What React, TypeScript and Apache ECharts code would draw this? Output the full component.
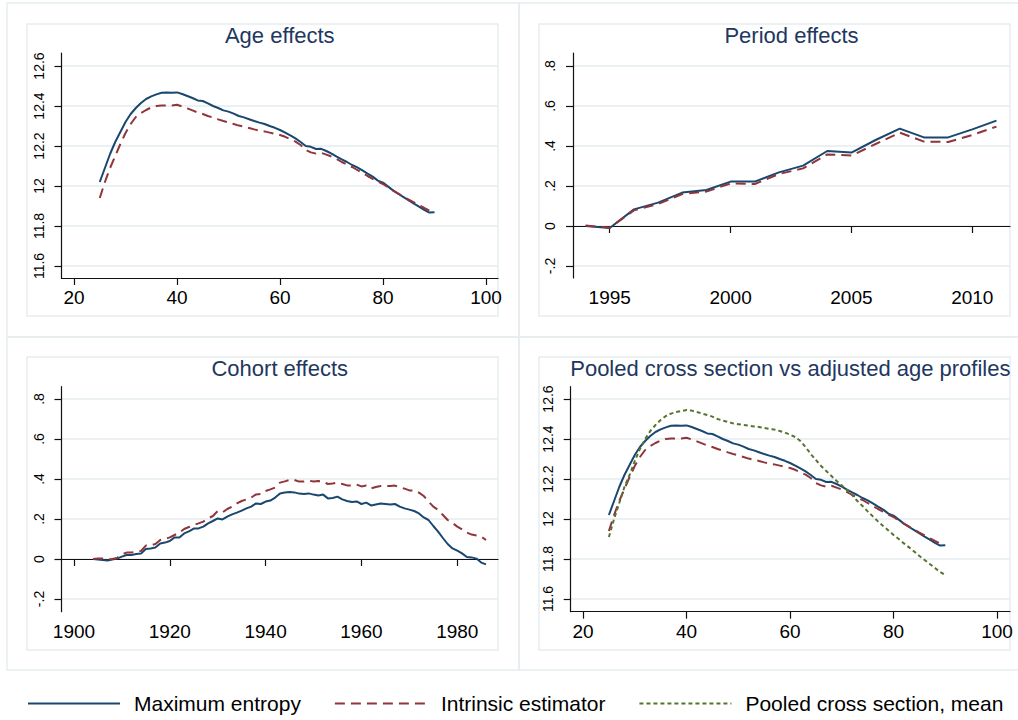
import { useEffect, useRef } from "react";
import * as echarts from "echarts";

// age profiles, ages 25..90
const AGE_START = 25;
const maxEntropyAge = [
  12.02, 12.09, 12.16, 12.22, 12.27, 12.32, 12.36, 12.39, 12.415, 12.435,
  12.448, 12.458, 12.466, 12.467, 12.466, 12.468, 12.46, 12.45, 12.44, 12.428,
  12.425, 12.413, 12.4, 12.39, 12.378, 12.372, 12.362, 12.35, 12.343, 12.334,
  12.325, 12.317, 12.31, 12.3, 12.291, 12.28, 12.267, 12.253, 12.238, 12.22,
  12.2, 12.196, 12.185, 12.186, 12.175, 12.162, 12.147, 12.133, 12.12, 12.105,
  12.093, 12.078, 12.062, 12.047, 12.027, 12.017, 11.997, 11.977, 11.96, 11.944,
  11.928, 11.912, 11.897, 11.881, 11.867, 11.869
];
const intrinsicAge = [
  11.94, 12.02, 12.09, 12.15, 12.21, 12.265, 12.31, 12.345, 12.365, 12.38,
  12.393, 12.4, 12.402, 12.402, 12.403, 12.406, 12.398, 12.388, 12.378, 12.368,
  12.36, 12.35, 12.342, 12.333, 12.325, 12.318, 12.31, 12.302, 12.297, 12.29,
  12.283, 12.277, 12.273, 12.267, 12.261, 12.255, 12.246, 12.234, 12.222, 12.205,
  12.18, 12.168, 12.162, 12.166, 12.157, 12.147, 12.135, 12.12, 12.107, 12.095,
  12.08, 12.065, 12.05, 12.036, 12.022, 12.01, 11.993, 11.977, 11.962, 11.947,
  11.932, 11.918, 11.904, 11.89, 11.877
];
const pooledAge = [
  11.91, 12.0, 12.08, 12.16, 12.22, 12.29, 12.35, 12.4, 12.44, 12.47,
  12.495, 12.515, 12.527, 12.535, 12.54, 12.545, 12.542, 12.535, 12.527, 12.52,
  12.512, 12.5, 12.492, 12.485, 12.478, 12.474, 12.47, 12.467, 12.463, 12.46,
  12.455, 12.45, 12.447, 12.44, 12.432, 12.422, 12.41, 12.39, 12.36, 12.325,
  12.295, 12.265, 12.24, 12.215, 12.19, 12.168, 12.145, 12.12, 12.09, 12.065,
  12.038, 12.013, 11.988, 11.965, 11.943, 11.92, 11.9, 11.878, 11.858, 11.837,
  11.815, 11.795, 11.775, 11.755, 11.735, 11.72
];

// period effects
const periodYears = [1994, 1995, 1996, 1997, 1998, 1999, 2000, 2001, 2002, 2003, 2004, 2005, 2006, 2007, 2008, 2009, 2010, 2011];
const maxEntropyPeriod = [0, -0.01, 0.083, 0.117, 0.167, 0.18, 0.222, 0.222, 0.268, 0.302, 0.375, 0.367, 0.43, 0.487, 0.443, 0.443, 0.483, 0.527];
const intrinsicPeriod = [0.002, -0.008, 0.078, 0.11, 0.16, 0.172, 0.213, 0.21, 0.26, 0.288, 0.358, 0.352, 0.41, 0.467, 0.422, 0.42, 0.455, 0.497];

// cohort effects, birth years 1904..1986
const COHORT_START = 1904;
const maxEntropyCohort = [
  0, -0.002, -0.005, -0.007, -0.002, 0.002, 0.012, 0.02, 0.02, 0.025,
  0.027, 0.05, 0.053, 0.058, 0.078, 0.082, 0.09, 0.108, 0.108, 0.128,
  0.138, 0.152, 0.153, 0.162, 0.178, 0.19, 0.203, 0.198, 0.212, 0.223,
  0.232, 0.242, 0.253, 0.262, 0.278, 0.275, 0.287, 0.292, 0.307, 0.328,
  0.332, 0.335, 0.333, 0.327, 0.325, 0.328, 0.322, 0.318, 0.322, 0.303,
  0.305, 0.312, 0.298, 0.29, 0.285, 0.288, 0.275, 0.282, 0.268, 0.273,
  0.277, 0.275, 0.273, 0.275, 0.262, 0.253, 0.247, 0.24, 0.228, 0.208,
  0.195, 0.165, 0.137, 0.105, 0.075, 0.053, 0.042, 0.028, 0.01, 0.008,
  0.002, -0.018, -0.027
];
const intrinsicCohort = [
  0, 0.003, 0.002, -0.002, 0, 0.005, 0.023, 0.032, 0.033, 0.035,
  0.04, 0.067, 0.068, 0.075, 0.095, 0.1, 0.108, 0.12, 0.132, 0.15,
  0.16, 0.17, 0.178, 0.187, 0.203, 0.215, 0.24, 0.233, 0.25, 0.262,
  0.278, 0.29, 0.298, 0.307, 0.323, 0.325, 0.34, 0.348, 0.357, 0.382,
  0.388, 0.395, 0.395, 0.387, 0.387, 0.392, 0.387, 0.39, 0.388, 0.375,
  0.377, 0.382, 0.375, 0.368, 0.367, 0.372, 0.363, 0.367, 0.353, 0.36,
  0.365, 0.365, 0.365, 0.367, 0.358, 0.352, 0.343, 0.342, 0.332, 0.315,
  0.287, 0.262, 0.245, 0.22, 0.195, 0.18, 0.162, 0.148, 0.132, 0.122,
  0.117, 0.112, 0.095
];

const ageTicks = [20, 40, 60, 80, 100];
const periodTicks = [1995, 2000, 2005, 2010];
const cohortTicks = [1900, 1920, 1940, 1960, 1980];
const levelTicks = [11.6, 11.8, 12, 12.2, 12.4, 12.6];
const effectTicks = [-0.2, 0, 0.2, 0.4, 0.6, 0.8];

const seriesNames = ["Maximum entropy", "Intrinsic estimator", "Pooled cross section, mean"];
const panelTitles = ["Age effects", "Period effects", "Cohort effects", "Pooled cross section vs adjusted age profiles"];

const FONT = "'Liberation Sans', Arial, Helvetica, sans-serif";
const BLUE = "#1a476f";
const RED = "#90353b";
const GREEN = "#55752f";
const FRAME = "#e6edf0";

// plot areas and axis extents of the four panels
const panels = [
  { left: 61.5, top: 53, width: 436.5, height: 225, x: [17.57, 102.33], y: [11.54, 12.665], xt: ageTicks, yt: levelTicks, outer: [7, 3, 512, 334], inner: [27, 24, 471, 292] },
  { left: 573, top: 53, width: 437, height: 225, x: [1993.48, 2011.56], y: [-0.26, 0.865], xt: periodTicks, yt: effectTicks, outer: [519, 3, 510, 334], inner: [539, 24, 471, 292] },
  { left: 61.5, top: 386.7, width: 436.5, height: 225, x: [1897.4, 1988.5], y: [-0.2635, 0.8615], xt: cohortTicks, yt: effectTicks, outer: [7, 337, 512, 333], inner: [27, 357, 471, 293] },
  { left: 570.7, top: 386.7, width: 439.3, height: 225, x: [17.62, 102.5], y: [11.5365, 12.6615], xt: ageTicks, yt: levelTicks, outer: [519, 337, 510, 333], inner: [539, 357, 471, 293] }
];

const fromStart = (start: number, values: number[]) => values.map((v, i) => [start + i, v]);
const paired = (xs: number[], values: number[]) => values.map((v, i) => [xs[i], v]);

const fmtLevel = (v: number) => String(+v.toFixed(1));
const fmtEffect = (v: number) => String(+v.toFixed(1)).replace(/^(-?)0\./, "$1.");

function lineSeries(name: string, grid: number, data: number[][]) {
  const style =
    name === seriesNames[0]
      ? { color: BLUE, width: 2, type: "solid" }
      : name === seriesNames[1]
        ? { color: RED, width: 2, type: [10, 6] }
        : { color: GREEN, width: 2, type: [4, 3] };
  return {
    name,
    type: "line",
    xAxisIndex: grid,
    yAxisIndex: grid,
    data,
    symbol: "none",
    color: style.color,
    lineStyle: style,
    silent: true
  };
}

export default function App() {
  const ref = useRef<HTMLDivElement | null>(null);

  useEffect(() => {
    if (!ref.current) {
      return;
    }
    const chart = echarts.init(ref.current, null, { renderer: "svg" });

    const frames: any[] = [];
    panels.forEach((p) => {
      frames.push({
        type: "rect",
        silent: true,
        z: -10,
        shape: { x: p.outer[0], y: p.outer[1], width: p.outer[2], height: p.outer[3] },
        style: { fill: "none", stroke: FRAME, lineWidth: 1.5 }
      });
      frames.push({
        type: "rect",
        silent: true,
        z: -10,
        shape: { x: p.inner[0], y: p.inner[1], width: p.inner[2], height: p.inner[3] },
        style: { fill: "none", stroke: FRAME, lineWidth: 1.5 }
      });
    });
    const titles = panels.map((p, i) => ({
      type: "text",
      silent: true,
      x: p.left + p.width / 2,
      y: p.inner[1] + 11,
      style: {
        text: panelTitles[i],
        align: "center",
        verticalAlign: "middle",
        fill: "#22375f",
        font: `22px ${FONT}`
      }
    }));

    chart.setOption({
      animation: false,
      backgroundColor: "#ffffff",
      textStyle: { fontFamily: FONT },
      grid: panels.map((p) => ({ left: p.left, top: p.top, width: p.width, height: p.height })),
      xAxis: panels.map((p, i) => ({
        type: "value",
        gridIndex: i,
        min: p.x[0],
        max: p.x[1],
        axisLine: { show: true, lineStyle: { color: "#111", width: 1.2 } },
        axisTick: { show: true, length: 7, lineStyle: { color: "#111", width: 1.2 }, customValues: p.xt },
        axisLabel: { customValues: p.xt, color: "#000", fontSize: 19, fontFamily: FONT, margin: 10, formatter: (v: number) => String(v) },
        splitLine: { show: false }
      })),
      yAxis: panels.map((p, i) => ({
        type: "value",
        gridIndex: i,
        min: p.y[0],
        max: p.y[1],
        axisLine: { show: true, lineStyle: { color: "#111", width: 1.2 } },
        axisTick: { show: true, length: 7, lineStyle: { color: "#111", width: 1.2 }, customValues: p.yt },
        axisLabel: {
          customValues: p.yt,
          rotate: 90,
          color: "#000",
          fontSize: 14,
          fontFamily: FONT,
          margin: 16,
          formatter: i === 1 || i === 2 ? fmtEffect : fmtLevel
        },
        splitLine: { show: true, lineStyle: { color: "#e4ebee", width: 1.5 } }
      })),
      legend: {
        left: 27,
        top: 693,
        width: 1000,
        padding: 0,
        itemWidth: 92,
        itemHeight: 14,
        itemGap: 33,
        selectedMode: false,
        data: seriesNames,
        itemStyle: { opacity: 0 },
        textStyle: { fontSize: 21, color: "#000", fontFamily: FONT, padding: [0, 0, 0, 9] }
      },
      graphic: [...frames, ...titles],
      series: [
        lineSeries(seriesNames[0], 0, fromStart(AGE_START, maxEntropyAge)),
        lineSeries(seriesNames[1], 0, fromStart(AGE_START, intrinsicAge)),
        lineSeries(seriesNames[0], 1, paired(periodYears, maxEntropyPeriod)),
        lineSeries(seriesNames[1], 1, paired(periodYears, intrinsicPeriod)),
        lineSeries(seriesNames[0], 2, fromStart(COHORT_START, maxEntropyCohort)),
        lineSeries(seriesNames[1], 2, fromStart(COHORT_START, intrinsicCohort)),
        lineSeries(seriesNames[0], 3, fromStart(AGE_START, maxEntropyAge)),
        lineSeries(seriesNames[1], 3, fromStart(AGE_START, intrinsicAge)),
        lineSeries(seriesNames[2], 3, fromStart(AGE_START, pooledAge))
      ]
    });

    return () => {
      chart.dispose();
    };
  }, []);

  return <div ref={ref} style={{ position: "fixed", left: 0, top: 0, width: 1018, height: 720, background: "#fff" }} />;
}
